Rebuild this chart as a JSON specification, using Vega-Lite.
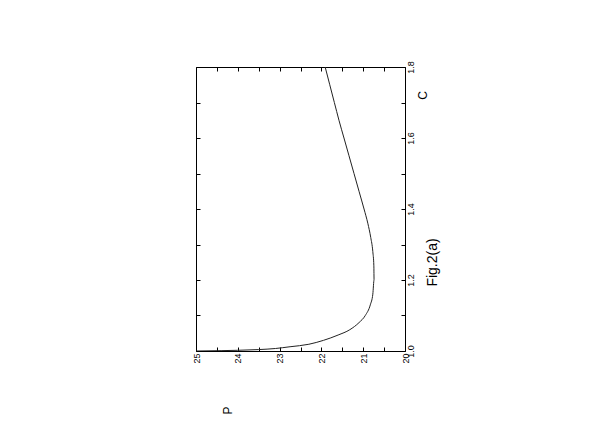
{
  "$schema": "https://vega.github.io/schema/vega-lite/v6.json",
  "width": 209,
  "height": 284,
  "autosize": {"type": "none"},
  "padding": {"left": 196, "top": 67, "right": 211, "bottom": 85},
  "background": "white",
  "config": {
    "view": {"stroke": "black", "strokeWidth": 1},
    "axis": {
      "grid": false,
      "domain": false,
      "labelFont": "Liberation Sans",
      "titleFont": "Liberation Sans",
      "tickColor": "black",
      "labelColor": "black",
      "titleColor": "black",
      "labelFontSize": 9,
      "titleFontWeight": "normal"
    }
  },
  "data": {
    "values": [
      {"C": 1.0, "P": 25.0},
      {"C": 1.001, "P": 24.4},
      {"C": 1.002, "P": 24.0},
      {"C": 1.004, "P": 23.5},
      {"C": 1.007, "P": 23.1},
      {"C": 1.012, "P": 22.75},
      {"C": 1.019, "P": 22.3},
      {"C": 1.03, "P": 21.95},
      {"C": 1.045, "P": 21.6},
      {"C": 1.06, "P": 21.32},
      {"C": 1.08, "P": 21.1},
      {"C": 1.1, "P": 20.95},
      {"C": 1.13, "P": 20.83},
      {"C": 1.16, "P": 20.77},
      {"C": 1.2, "P": 20.74},
      {"C": 1.24, "P": 20.745},
      {"C": 1.28, "P": 20.77},
      {"C": 1.32, "P": 20.82},
      {"C": 1.36, "P": 20.89},
      {"C": 1.4, "P": 20.98},
      {"C": 1.45, "P": 21.1},
      {"C": 1.5, "P": 21.22},
      {"C": 1.55, "P": 21.34},
      {"C": 1.6, "P": 21.46},
      {"C": 1.65, "P": 21.58},
      {"C": 1.7, "P": 21.69},
      {"C": 1.75, "P": 21.8},
      {"C": 1.8, "P": 21.91}
    ]
  },
  "layer": [
    {
      "mark": {"type": "line", "color": "#222222", "strokeWidth": 1, "clip": true, "interpolate": "monotone"},
      "encoding": {
        "x": {
          "field": "P",
          "type": "quantitative",
          "scale": {"domain": [20, 25], "reverse": true, "zero": false, "nice": false},
          "axis": {
            "orient": "bottom",
            "values": [20, 20.5, 21, 21.5, 22, 22.5, 23, 23.5, 24, 24.5, 25],
            "labelExpr": "datum.value % 1 === 0 ? format(datum.value, 'd') : ''",
            "tickSize": -4,
            "labelAngle": -90,
            "labelAlign": "right",
            "labelBaseline": "middle",
            "labelPadding": 6,
            "title": "P",
            "titleAngle": -90,
            "titleAlign": "center",
            "titleBaseline": "middle",
            "titleX": 31,
            "titleY": 59,
            "titleFontSize": 12
          }
        },
        "y": {
          "field": "C",
          "type": "quantitative",
          "scale": {"domain": [1, 1.8], "zero": false, "nice": false},
          "axis": {
            "orient": "right",
            "values": [1.0, 1.1, 1.2, 1.3, 1.4, 1.5, 1.6, 1.7, 1.8],
            "labelExpr": "round(datum.value * 10) % 2 === 0 ? format(datum.value, '.1f') : ''",
            "tickSize": -4,
            "labelAngle": -90,
            "labelAlign": "center",
            "labelBaseline": "top",
            "labelPadding": 5,
            "title": "C",
            "titleAngle": -90,
            "titleAlign": "center",
            "titleBaseline": "middle",
            "titleX": 17,
            "titleY": 28,
            "titleFontSize": 12
          }
        },
        "order": {"field": "C", "type": "quantitative"}
      }
    },
    {
      "mark": {"type": "line", "opacity": 0},
      "encoding": {
        "x": {
          "field": "P",
          "type": "quantitative",
          "axis": {
            "orient": "top",
            "values": [20, 20.5, 21, 21.5, 22, 22.5, 23, 23.5, 24, 24.5, 25],
            "labels": false,
            "tickSize": -4,
            "title": "Fig.2(a)",
            "titleAngle": -90,
            "titleAlign": "center",
            "titleBaseline": "middle",
            "titleX": 236,
            "titleY": 195,
            "titleFontSize": 14
          }
        },
        "y": {
          "field": "C",
          "type": "quantitative",
          "axis": {
            "orient": "left",
            "values": [1.0, 1.1, 1.2, 1.3, 1.4, 1.5, 1.6, 1.7, 1.8],
            "labels": false,
            "tickSize": -4,
            "title": null
          }
        },
        "order": {"field": "C", "type": "quantitative"}
      }
    }
  ],
  "resolve": {"axis": {"x": "independent", "y": "independent"}}
}
